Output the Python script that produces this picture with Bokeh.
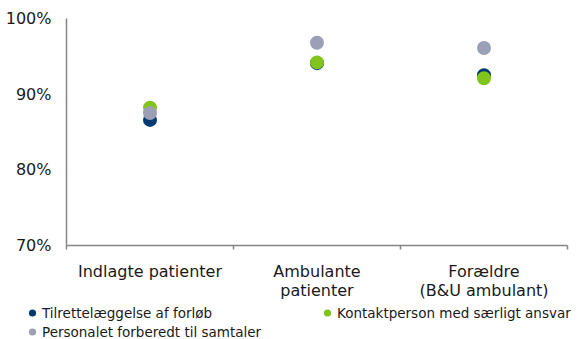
from bokeh.plotting import figure
from bokeh.layouts import column
from bokeh.models import (Range1d, FixedTicker, Legend, LegendItem, NumeralTickFormatter)
from bokeh.embed import file_html
from bokeh.resources import INLINE

# Respondent groups (x categories) and the share of positive answers per question
categories = ["Indlagte patienter", "Ambulante\npatienter", "Forældre\n(B&U ambulant)"]
tilrettelaeggelse = [0.866, 0.941, 0.925]
kontaktperson = [0.882, 0.942, 0.921]
personalet = [0.875, 0.968, 0.961]

series_names = ["Tilrettelæggelse af forløb", "Kontaktperson med særligt ansvar",
                "Personalet forberedt til samtaler"]
series_values = [tilrettelaeggelse, kontaktperson, personalet]
series_colors = ["#003a70", "#80c41c", "#9ba0b6"]

y_ticks = [0.7, 0.8, 0.9, 1.0]

FONT = "DejaVu Sans"
TEXT_COLOR = "#1a1a1a"
AXIS_COLOR = "#858585"

# each group sits in the middle of a unit-wide slot
x_pos = [i + 0.5 for i in range(len(categories))]

p = figure(width=579, height=303, output_backend="svg", toolbar_location=None,
           x_range=Range1d(0, len(categories)), y_range=Range1d(0.7, 1.0),
           min_border_left=66, min_border_right=12, min_border_top=18,
           min_border_bottom=58)
p.outline_line_color = None
p.grid.grid_line_color = None
p.background_fill_color = "white"

for vals, col in zip(series_values, series_colors):
    p.scatter(x_pos, vals, size=14, fill_color=col, line_color=None)

# x axis: labels centred in each slot, short ticks on the slot boundaries
xa = p.xaxis[0]
xa.ticker = FixedTicker(ticks=x_pos, minor_ticks=list(range(len(categories) + 1)))
xa.major_label_overrides = {x: c for x, c in zip(x_pos, categories)}
xa.major_tick_line_color = None
xa.major_tick_out = 0
xa.major_tick_in = 0
xa.minor_tick_out = 4
xa.minor_tick_in = 0
xa.minor_tick_line_color = AXIS_COLOR
xa.minor_tick_line_width = 1.5
xa.axis_line_color = AXIS_COLOR
xa.axis_line_width = 1.5
xa.major_label_text_font = FONT
xa.major_label_text_font_size = "16px"
xa.major_label_text_color = TEXT_COLOR
xa.major_label_text_line_height = 1.0
xa.major_label_standoff = 12

ya = p.yaxis[0]
ya.ticker = FixedTicker(ticks=y_ticks, minor_ticks=[])
ya.formatter = NumeralTickFormatter(format="0%")
ya.major_tick_line_color = None
ya.major_tick_out = 0
ya.major_tick_in = 0
ya.axis_line_color = AXIS_COLOR
ya.axis_line_width = 1.5
ya.major_label_text_font = FONT
ya.major_label_text_font_size = "16px"
ya.major_label_text_color = TEXT_COLOR
ya.major_label_standoff = 15

# legend strip under the chart, two columns of keys; its frame spans the full width
leg = figure(width=579, height=36, output_backend="svg", toolbar_location=None,
             x_range=Range1d(0, 1), y_range=Range1d(0, 1),
             x_axis_location=None, y_axis_location=None, frame_align=False,
             min_border_left=0, min_border_right=0, min_border_top=0,
             min_border_bottom=0)
leg.outline_line_color = None
leg.grid.grid_line_color = None
# key glyphs only: a single undefined point each, so nothing is plotted
nan = float("nan")
keys = [leg.scatter([nan], [nan], size=7, fill_color=c, line_color=None)
        for c in series_colors]


def make_legend(idx, loc):
    items = [LegendItem(label=series_names[i], renderers=[keys[i]]) for i in idx]
    return Legend(items=items, location=loc, orientation="vertical",
                  label_text_font=FONT, label_text_font_size="13.5px",
                  label_text_color=TEXT_COLOR, glyph_width=18, glyph_height=19,
                  label_height=19, label_standoff=1, spacing=0, padding=0,
                  margin=0, border_line_color=None, background_fill_alpha=0)


# left column: first and third series; right column: second series
leg.add_layout(make_legend([0, 2], (23, -2)), "center")
leg.add_layout(make_legend([1], (318, 17)), "center")

layout = column(p, leg, spacing=0)
open("out.html", "w").write(file_html(layout, INLINE))
